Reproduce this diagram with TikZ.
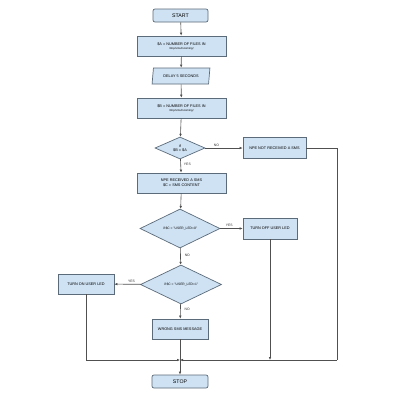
\documentclass[tikz,border=0pt]{standalone}
\usepackage{fontspec}
\setmainfont{Liberation Sans}
\usetikzlibrary{shapes.geometric,arrows.meta}
\definecolor{boxfill}{HTML}{CFE2F3}
\definecolor{boxline}{HTML}{5B6B7A}
\definecolor{lineclr}{HTML}{505050}
\tikzset{
  x=1pt,y=-1pt,
  base/.style={draw=boxline,fill=boxfill,line width=0.7pt,inner sep=0pt,align=center,font=\fontsize{3.8}{4.4}\selectfont},
  procbox/.style={base,rectangle,minimum width=#1,minimum height=20},
  termbox/.style={base,rectangle,rounded corners=2pt,minimum width=55,minimum height=13,font=\fontsize{5.2}{6}\selectfont},
  iobox/.style={base,trapezium,trapezium left angle=72,trapezium right angle=108,trapezium stretches=true,minimum width=58,minimum height=16},
  decbox/.style={base,diamond,aspect=2},
  conn/.style={draw=lineclr,line width=0.6pt,-{Latex[length=3pt,width=2.6pt]}},
  plain/.style={draw=lineclr,line width=0.6pt},
  lbl/.style={font=\fontsize{3.4}{4}\selectfont,text=black!80,inner sep=0pt},
  small/.style={font=\fontsize{2.8}{3.4}\selectfont}
}
\begin{document}
\begin{tikzpicture}
\fill[white] (0,0) rectangle (400,400);
\useasboundingbox (0,0) rectangle (400,400);

\node[termbox] (start) at (180.5,15.5) {START};
\node[procbox=89] (a) at (181.5,46) {\$A = NUMBER OF FILES IN\\[-0.3pt]{\fontsize{2.8}{3.4}\selectfont /tmp/sms/incoming/}};
\node[iobox] (delay) at (181,76) {DELAY 5 SECONDS};
\node[procbox=89] (b) at (181.5,108) {\$B = NUMBER OF FILES IN\\[-0.3pt]{\fontsize{2.8}{3.4}\selectfont /tmp/sms/incoming/}};
\node[decbox,minimum width=50,minimum height=22] (d1) at (180,148) {if\\\$B = \$A};
\node[procbox=63,minimum height=21] (nrecv) at (274.5,148) {NPE NOT RECEIVED A SMS};
\node[procbox=89] (c) at (181.5,183) {NPE RECEIVED A SMS\\\$C = SMS CONTENT};
\node[decbox,minimum width=80,minimum height=39,font=\fontsize{3.3}{4}\selectfont] (d2) at (180,228.5) {if \$C = "USER\_LED=0"};
\node[procbox=54,minimum height=21] (off) at (270,228.5) {TURN OFF USER LED};
\node[decbox,minimum width=81,minimum height=39,font=\fontsize{3.3}{4}\selectfont] (d3) at (181,284.5) {if \$C = "USER\_LED=1"};
\node[procbox=56] (on) at (86,284) {TURN ON USER LED};
\node[procbox=56] (wrong) at (180,329) {WRONG SMS MESSAGE};
\node[termbox,minimum width=56] (stop) at (180,381.5) {STOP};

\coordinate (m) at (180,360);
\coordinate (rc) at (337,148);
\coordinate (rb) at (337,360);
\coordinate (lb) at (86,360);
\coordinate (ob) at (270,360);

\draw[conn] (start) -- (a);
\draw[conn] (a) -- (delay);
\draw[conn] (delay) -- (b);
\draw[conn] (b) -- (d1);
\draw[conn] (d1) -- node[lbl,above=1.5pt,pos=0.3]{NO} (nrecv);
\draw[conn] (d1) -- node[lbl,right=3pt,pos=0.35]{YES} (c);
\draw[conn] (c) -- (d2);
\draw[conn] (d2) -- node[lbl,above=1.5pt,pos=0.4]{YES} (off);
\draw[conn] (d2) -- node[lbl,right=4pt,pos=0.4]{NO} (d3);
\draw[conn] (d3) -- node[lbl,above=1.5pt,pos=0.35]{YES} (on);
\draw[conn] (d3) -- node[lbl,right=4pt,pos=0.35]{NO} (wrong);
\draw[conn] (wrong) -- (stop);
\draw[plain] (nrecv) -- (rc) -- (rb);
\draw[conn] (rb) -- (m);
\draw[conn] (off) -- (ob);
\draw[conn] (on) -- (lb) -- (m);
\end{tikzpicture}
\end{document}
